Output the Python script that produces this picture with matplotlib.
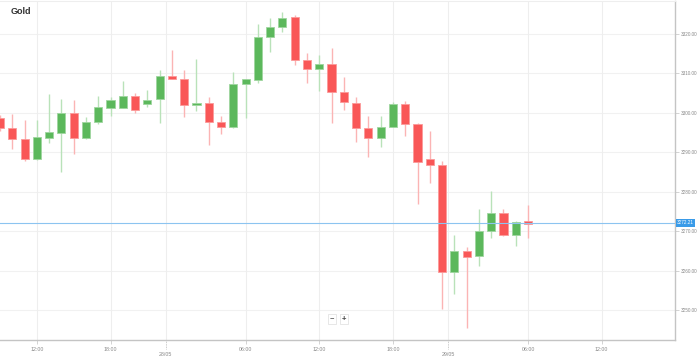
import numpy as np
import matplotlib
matplotlib.use('Agg')
import matplotlib.pyplot as plt
import matplotlib.transforms as mtransforms

plt.rcParams['font.family'] = ['Liberation Sans', 'DejaVu Sans']

# hourly candles, 27/05 11:00 -> 29/05 06:00 (market gap skipped)
opens  = [3298.7, 3296.3, 3293.3, 3288.3, 3293.7, 3295.0, 3299.9, 3293.6, 3297.8, 3301.3,
          3301.3, 3304.4, 3302.2, 3303.5, 3309.4, 3308.5, 3302.0, 3302.6, 3297.8, 3296.5,
          3307.3, 3308.4, 3319.3, 3321.8, 3324.4, 3313.3, 3311.1, 3312.3, 3305.2, 3302.6,
          3296.1, 3293.6, 3296.5, 3302.2, 3297.2, 3288.4, 3286.8, 3259.7, 3265.1, 3263.8,
          3270.1, 3274.6, 3269.2, 3272.6]
closes = [3296.3, 3293.3, 3288.3, 3293.8, 3295.3, 3299.9, 3293.6, 3297.8, 3301.4, 3303.2,
          3304.4, 3300.8, 3303.3, 3309.4, 3308.7, 3302.0, 3302.6, 3297.8, 3296.5, 3307.3,
          3308.5, 3319.2, 3321.7, 3324.1, 3313.4, 3311.1, 3312.3, 3305.2, 3302.7, 3296.1,
          3293.6, 3296.4, 3302.3, 3297.1, 3287.6, 3286.8, 3259.7, 3265.1, 3263.6, 3270.1,
          3274.6, 3269.1, 3272.5, 3271.8]
highs  = [3299.5, 3299.7, 3298.2, 3298.1, 3304.8, 3303.5, 3303.3, 3298.9, 3304.4, 3304.0,
          3308.1, 3305.0, 3305.8, 3310.9, 3316.0, 3310.9, 3313.7, 3304.1, 3299.2, 3310.5,
          3308.6, 3322.5, 3324.0, 3325.5, 3324.8, 3315.1, 3314.6, 3316.4, 3309.0, 3304.1,
          3299.2, 3299.2, 3302.9, 3303.0, 3297.4, 3295.5, 3287.8, 3269.1, 3266.1, 3275.6,
          3280.3, 3275.6, 3272.6, 3276.6]
lows   = [3295.5, 3290.8, 3287.9, 3288.2, 3292.5, 3285.1, 3289.6, 3293.3, 3297.1, 3299.2,
          3301.2, 3299.9, 3301.6, 3297.4, 3308.5, 3298.9, 3300.6, 3291.9, 3294.6, 3296.3,
          3298.7, 3307.5, 3315.5, 3320.4, 3312.2, 3307.7, 3305.6, 3297.5, 3300.8, 3292.7,
          3288.8, 3291.5, 3296.4, 3294.2, 3277.0, 3282.2, 3250.4, 3254.1, 3245.5, 3261.3,
          3268.3, 3268.9, 3266.3, 3268.3]
current_price = 3272.21

time_ticks = [3, 9, 20, 26, 32, 43, 49]
time_labels = ['12:00', '18:00', '06:00', '12:00', '18:00', '06:00', '12:00']
date_ticks = [13.5, 36.5]
date_labels = ['28/05', '29/05']
price_ticks = [3250, 3260, 3270, 3280, 3290, 3300, 3310, 3320]

green = '#5cb85c'
red = '#f95757'

fig = plt.figure(figsize=(6.99, 3.57), dpi=100)
ax = fig.add_axes([0.0, 17 / 357, 675 / 699, 339 / 357])

x = np.arange(len(opens))
o = np.array(opens)
c = np.array(closes)
up = c >= o
body_col = np.where(up, green, red)
wick_col = np.where(up, '#b9e2b9', '#fbb4b4')
edge_col = np.where(up, '#9fd69f', '#fb9a9a')

ax.vlines(x, lows, highs, colors=wick_col, linewidth=1.0, zorder=2)
ax.bar(x, np.maximum(np.abs(c - o), 0.25), bottom=np.minimum(o, c), width=0.66,
       color=body_col, edgecolor=edge_col, linewidth=0.6, zorder=3)

ax.set_xlim(0, 54.97)
ax.set_ylim(3242.53, 3328.35)

# grid
for p in price_ticks:
    ax.axhline(p, color='#f1f1f1', linewidth=0.8, zorder=0)
for t in time_ticks + date_ticks:
    ax.axvline(t, color='#eeeeee', linewidth=0.8, zorder=0)

# price line
ax.axhline(current_price, color='#8cc4f0', linewidth=0.8, zorder=4)
tr = mtransforms.blended_transform_factory(ax.transAxes, ax.transData)
ax.text(1.003, current_price, f'{current_price:.2f}', transform=tr, fontsize=3.3,
        color='white', va='center', ha='left', zorder=6, clip_on=False,
        bbox=dict(boxstyle='square,pad=0.3', fc='#3a9be8', ec='none'))

# axes look
ax.spines['left'].set_visible(False)
ax.spines['right'].set_color('#c4c4c4')
ax.spines['bottom'].set_color('#c4c4c4')
ax.spines['top'].set_color('#eeeeee')
ax.spines['right'].set_linewidth(1.0)
ax.spines['bottom'].set_linewidth(1.0)

ax.yaxis.tick_right()
ax.set_yticks(price_ticks)
ax.set_yticklabels([f'{p:.2f}' for p in price_ticks])
ax.tick_params(axis='y', length=3, width=0.6, color='#cccccc', labelsize=3.3,
               labelcolor='#888888', pad=1.5)

ax.set_xticks(time_ticks)
ax.set_xticklabels(time_labels)
ax.set_xticks(date_ticks, minor=True)
ax.set_xticklabels(date_labels, minor=True)
ax.tick_params(axis='x', which='major', length=3, width=0.6, color='#cccccc',
               labelsize=3.8, labelcolor='#888888', pad=2)
ax.tick_params(axis='x', which='minor', length=0, labelsize=3.8,
               labelcolor='#888888', pad=9)

trx = mtransforms.blended_transform_factory(ax.transData, ax.transAxes)
for t in date_ticks:
    ax.plot([t, t], [0, -0.028], transform=trx, color='#bbbbbb', linewidth=0.6,
            linestyle=(0, (1, 1)), clip_on=False)

ax.text(11 / 675, 1 - 10 / 339, 'Gold', transform=ax.transAxes, fontsize=6.5,
        fontweight='bold', color='#333333', va='center', ha='left')

# zoom buttons
ax.text(332 / 675, (340 - 319) / 339, '\u2212', transform=ax.transAxes, fontsize=5.5,
        color='#444444', ha='center', va='center',
        bbox=dict(boxstyle='square,pad=0.25', fc='white', ec='#dddddd', lw=0.5))
ax.text(344 / 675, (340 - 319) / 339, '+', transform=ax.transAxes, fontsize=5.5,
        color='#444444', ha='center', va='center', fontweight='bold',
        bbox=dict(boxstyle='square,pad=0.25', fc='white', ec='#dddddd', lw=0.5))

fig.savefig('out.png', dpi=100, facecolor='white')
